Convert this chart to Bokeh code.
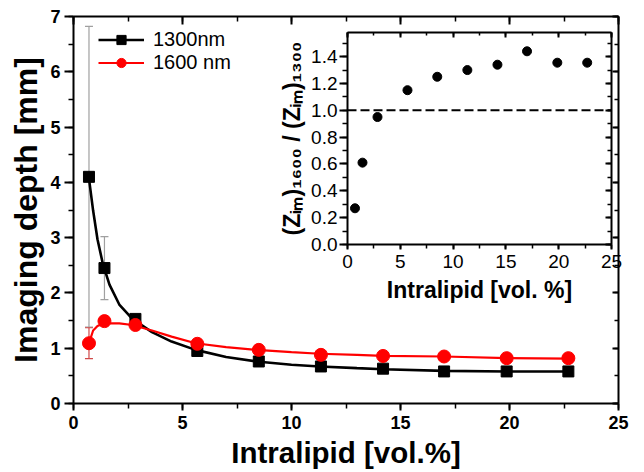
from bokeh.plotting import figure
from bokeh.layouts import column
from bokeh.models import (ColumnDataSource, Whisker, TeeHead, LinearAxis,
                          SingleIntervalTicker, Span, Legend, LegendItem,
                          Range1d, PrintfTickFormatter, Title)
from bokeh.embed import file_html
from bokeh.resources import INLINE

# ---------------- data ----------------
conc = [0.71, 1.42, 2.84, 5.68, 8.5, 11.35, 14.2, 17.0, 19.87, 22.7]
depth_1300 = [4.10, 2.45, 1.53, 0.95, 0.76, 0.67, 0.63, 0.58, 0.58, 0.58]
err_1300 = [2.72, 0.57, 0.05, 0.04, 0.03, 0.03, 0.02, 0.02, 0.02, 0.02]
depth_1600 = [1.09, 1.49, 1.42, 1.08, 0.97, 0.88, 0.86, 0.85, 0.82, 0.82]
err_1600 = [0.28, 0.05, 0.05, 0.04, 0.03, 0.03, 0.02, 0.02, 0.02, 0.02]

fit_x = [0.7, 0.9, 1.1, 1.35, 1.65, 2.1, 2.7, 3.6, 4.5, 5.6, 7.0, 8.4,
         10.0, 11.3, 13.0, 14.2, 17.0, 19.9, 22.7]
fit_1300 = [4.10, 3.49, 2.97, 2.52, 2.15, 1.79, 1.53, 1.29, 1.12, 0.97, 0.84,
            0.76, 0.70, 0.67, 0.64, 0.62, 0.59, 0.58, 0.58]
fit_1600 = [1.08, 1.32, 1.40, 1.44, 1.45, 1.45, 1.42, 1.32, 1.21, 1.09, 1.02,
            0.97, 0.93, 0.90, 0.88, 0.86, 0.85, 0.82, 0.81]

ratio = [0.27, 0.61, 0.95, 1.15, 1.25, 1.30, 1.34, 1.44, 1.355, 1.355]
ratio_ref = 1.0

x_title = "Intralipid [vol.%]"
y_title = "Imaging depth [mm]"
inset_x_title = "Intralipid [vol. %]"
inset_y_title = "(Z\u1d62\u2098)\u2081\u2086\u2080\u2080 / (Z\u1d62\u2098)\u2081\u2083\u2080\u2080"

FONT = "Liberation Sans"


def style_axes(axes, bold, label_size):
    for ax in axes:
        ax.axis_line_width = 2
        ax.axis_line_color = "black"
        ax.major_tick_line_width = 2
        ax.minor_tick_line_width = 1.5
        ax.major_tick_line_color = "black"
        ax.minor_tick_line_color = "black"
        ax.major_label_text_font = FONT
        ax.major_label_text_font_style = "bold" if bold else "normal"
        ax.major_label_text_font_size = label_size
        ax.major_label_text_color = "black"
        ax.axis_label_text_font = FONT
        ax.axis_label_text_font_style = "bold"
        ax.axis_label_text_color = "black"


def mirror_axis(ax, tin, mtin):
    ax.major_tick_out = 0
    ax.major_tick_in = tin
    ax.minor_tick_out = 0
    ax.minor_tick_in = mtin
    ax.major_label_text_color = None
    ax.major_label_text_font_size = "1px"
    ax.major_label_standoff = 0


# ---------------- main figure ----------------
MAIN_H = 472
SHIFT = 10
p = figure(width=644 + SHIFT, height=MAIN_H, x_range=Range1d(0, 25), y_range=Range1d(0, 7),
           output_backend="svg", toolbar_location=None,
           min_border_left=66, min_border_right=2, min_border_top=16,
           min_border_bottom=69)
p.margin = (0, 0, 0, -SHIFT)
p.outline_line_color = None
p.grid.visible = False
p.background_fill_color = "white"
p.border_fill_color = "white"

xt = SingleIntervalTicker(interval=5, num_minor_ticks=2)
yt = SingleIntervalTicker(interval=1, num_minor_ticks=2)

bottom = p.below[0]
left = p.left[0]
bottom.ticker = xt
left.ticker = yt
top = LinearAxis(ticker=xt)
right = LinearAxis(ticker=yt)
p.add_layout(top, "above")
p.add_layout(right, "right")
style_axes([bottom, left, top, right], True, "18px")

bottom.major_tick_out = 7
bottom.major_tick_in = 0
bottom.minor_tick_out = 5
bottom.minor_tick_in = 0
bottom.major_label_standoff = 5

left.major_tick_out = 9
left.major_tick_in = 0
left.minor_tick_out = 5
left.minor_tick_in = 0
left.major_label_standoff = 4

mirror_axis(top, 8, 5)
mirror_axis(right, 6, 4)

p.add_layout(Title(text=x_title, align="center", standoff=4,
                   text_font=FONT, text_font_style="bold",
                   text_font_size="29.5px", text_color="black"), "below")
p.add_layout(Title(text=y_title, align="center", standoff=8, offset=-13,
                   text_font=FONT, text_font_style="bold",
                   text_font_size="32px", text_color="black"), "left")

src1 = ColumnDataSource(dict(x=conc, y=depth_1300,
                             lo=[v - e for v, e in zip(depth_1300, err_1300)],
                             hi=[v + e for v, e in zip(depth_1300, err_1300)]))
src2 = ColumnDataSource(dict(x=conc, y=depth_1600,
                             lo=[v - e for v, e in zip(depth_1600, err_1600)],
                             hi=[v + e for v, e in zip(depth_1600, err_1600)]))

w1 = Whisker(source=src1, base="x", upper="hi", lower="lo",
             line_color="#a0a0a0", line_width=1.2, level="underlay",
             upper_head=TeeHead(size=8, line_color="#a0a0a0", line_width=1.2),
             lower_head=TeeHead(size=8, line_color="#a0a0a0", line_width=1.2))
w2 = Whisker(source=src2, base="x", upper="hi", lower="lo",
             line_color="#d04848", line_width=1.2, level="underlay",
             upper_head=TeeHead(size=8, line_color="#d04848", line_width=1.2),
             lower_head=TeeHead(size=8, line_color="#d04848", line_width=1.2))
p.add_layout(w1)
p.add_layout(w2)

l1 = p.line(fit_x, fit_1300, line_color="black", line_width=2.6)
s1 = p.scatter("x", "y", source=src1, marker="square", size=11,
               fill_color="black", line_color="black")
l2 = p.line(fit_x, fit_1600, line_color="#ff0000", line_width=2.2)
s2 = p.scatter("x", "y", source=src2, marker="circle", size=13,
               fill_color="#ff0000", line_color="#ff0000")

legend = Legend(items=[LegendItem(label="1300nm", renderers=[l1, s1]),
                       LegendItem(label="1600 nm", renderers=[l2, s2])],
                location=(25, 329), glyph_width=46, glyph_height=23,
                label_height=23, spacing=0, padding=0, margin=0,
                label_standoff=9, label_text_font=FONT,
                label_text_font_size="20px", label_text_color="black",
                background_fill_alpha=0, border_line_alpha=0)
p.add_layout(legend)

# ---------------- inset figure ----------------
INSET_H = 282
INSET_TOP = 24
q = figure(width=363, height=INSET_H, x_range=Range1d(0, 25), y_range=Range1d(0, 1.58),
           output_backend="svg", toolbar_location=None,
           min_border_left=83, min_border_right=16, min_border_top=8,
           min_border_bottom=62)
q.outline_line_color = None
q.grid.visible = False
q.background_fill_color = "white"
q.border_fill_alpha = 0
q.margin = (INSET_TOP - MAIN_H, 0, MAIN_H - INSET_TOP - INSET_H, 264)

qxt = SingleIntervalTicker(interval=5, num_minor_ticks=2)
qyt = SingleIntervalTicker(interval=0.2, num_minor_ticks=2)
qb = q.below[0]
ql = q.left[0]
qb.ticker = qxt
ql.ticker = qyt
ql.formatter = PrintfTickFormatter(format="%.1f")
qt = LinearAxis(ticker=qxt)
qr = LinearAxis(ticker=qyt)
q.add_layout(qt, "above")
q.add_layout(qr, "right")
style_axes([qb, ql, qt, qr], False, "19px")

qb.major_tick_out = 5
qb.major_tick_in = 0
qb.minor_tick_out = 4
qb.minor_tick_in = 0
qb.major_label_standoff = 5
qb.axis_label = inset_x_title
qb.axis_label_text_font_size = "23px"
qb.axis_label_standoff = 6

ql.major_tick_out = 8
ql.major_tick_in = 0
ql.minor_tick_out = 5
ql.minor_tick_in = 0
ql.major_label_standoff = 2
ql.axis_label = inset_y_title
ql.axis_label_text_font_size = "23px"
ql.axis_label_standoff = 3

mirror_axis(qt, 5, 3)
mirror_axis(qr, 6, 4)

q.add_layout(Span(location=ratio_ref, dimension="width", line_color="black",
                  line_width=2, line_dash="9 4"))
q.scatter(conc, ratio, marker="circle", size=9, fill_color="black",
          line_color="black")

layout = column(p, q)
layout.spacing = 0

with open("out.html", "w") as f:
    f.write(file_html(layout, INLINE))
